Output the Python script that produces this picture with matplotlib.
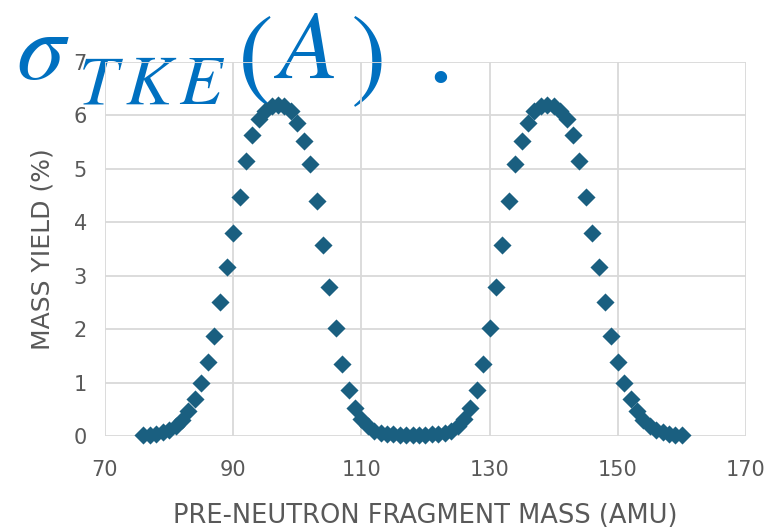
import matplotlib
matplotlib.use("Agg")
import matplotlib.pyplot as plt

mass = list(range(76, 161))
yield_pct = [
    0.01, 0.02, 0.04, 0.07, 0.12, 0.19, 0.30, 0.47, 0.70, 1.00,   # 76-85
    1.39, 1.88, 2.50, 3.17, 3.80, 4.48, 5.15, 5.63, 5.93, 6.08,   # 86-95
    6.17, 6.20, 6.17, 6.08, 5.85, 5.52, 5.09, 4.39, 3.58, 2.79,   # 96-105
    2.03, 1.35, 0.86, 0.52, 0.31, 0.18, 0.10, 0.06, 0.04, 0.03,   # 106-115
    0.02, 0.02, 0.02, 0.02, 0.02, 0.03, 0.04, 0.06, 0.10, 0.18,   # 116-125
    0.31, 0.52, 0.86, 1.35, 2.03, 2.79, 3.58, 4.39, 5.09, 5.52,   # 126-135
    5.85, 6.08, 6.17, 6.20, 6.17, 6.08, 5.93, 5.63, 5.15, 4.48,   # 136-145
    3.80, 3.17, 2.50, 1.88, 1.39, 1.00, 0.70, 0.47, 0.30, 0.19,   # 146-155
    0.12, 0.07, 0.04, 0.02, 0.01,                                 # 156-160
]
x_ticks = [70, 90, 110, 130, 150, 170]
y_ticks = [0, 1, 2, 3, 4, 5, 6, 7]

plt.rcParams["mathtext.fontset"] = "stix"
gray = "#595959"
blue = "#0070C0"
W, H = 776, 528

fig = plt.figure(figsize=(7.76, 5.28), dpi=100)
ax = fig.add_axes([105/W, 1 - 436/H, (746-105)/W, (436-62)/H])
ax.set_zorder(1)
ax.patch.set_alpha(0)
ax.scatter(mass, yield_pct, marker="D", s=85, color="#1a5f80", zorder=3,
           clip_on=False, linewidths=0)
ax.set_xlim(70, 170)
ax.set_ylim(0, 7)
ax.set_xticks(x_ticks)
ax.set_yticks(y_ticks)
ax.grid(True, color="#d9d9d9", linewidth=1.3)
ax.set_axisbelow(True)
for sp in ax.spines.values():
    sp.set_visible(False)
ax.tick_params(length=0, labelsize=15, labelcolor=gray)
ax.tick_params(axis="x", pad=17)
ax.tick_params(axis="y", pad=13)
ax.set_xlabel("PRE-NEUTRON FRAGMENT MASS (AMU)", fontsize=18.5, color=gray, labelpad=17)
ax.set_ylabel("MASS YIELD (%)", fontsize=18, color=gray, labelpad=14)

# overlay title pieces (drawn behind the chart)
def ftxt(x, y, s, size, **kw):
    fig.text(x/W, 1 - y/H, s, fontsize=size, color=blue, ha="left",
             va="baseline", zorder=0, **kw)

ftxt(16, 79, r"$\sigma$", 70)
ftxt(78, 104, r"$T\,K\,E$", 50)
ftxt(237, 88, r"$($", 77)
ftxt(274, 78, r"$A$", 70)
ftxt(350, 88, r"$)$", 77)
ftxt(426, 82, ".", 80, family="STIXGeneral")

fig.savefig("out.png", dpi=100)
